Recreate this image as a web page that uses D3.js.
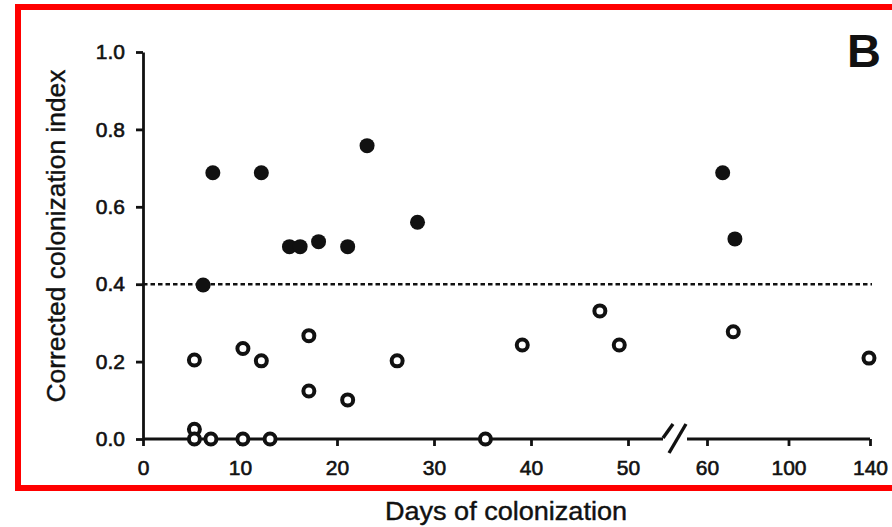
<!DOCTYPE html>
<html>
<head>
<meta charset="utf-8">
<script src="https://cdn.jsdelivr.net/npm/d3@7"></script>
<style>
  html, body { margin: 0; padding: 0; background: #fff; }
  svg { display: block; }
  text { font-family: "Liberation Sans", Arial, sans-serif; fill: #111; }
  .tick text { font-size: 21px; stroke: #111; stroke-width: 0.6px; }
  .title { stroke: #111; stroke-width: 0.4px; }
  .tick line, .domain { stroke: #111; stroke-width: 2.8px; }
</style>
</head>
<body>
<svg width="892" height="527"></svg>
<script>
'use strict';

// filled circles (index above threshold)
const filled_days  = [7.2, 12.2, 23.1, 15.1, 16.2, 18.1, 21.1, 28.3, 6.2, 67.7, 73.7];
const filled_index = [0.688, 0.688, 0.758, 0.497, 0.497, 0.510, 0.497, 0.560, 0.398, 0.688, 0.517];

// open circles
const open_days  = [5.3, 10.3, 12.2, 17.1, 17.1, 21.1, 26.2, 5.3, 5.3, 7.0, 10.3, 13.1, 35.3, 39.1, 47.1, 49.1, 72.9, 139.5];
const open_index = [0.204, 0.234, 0.202, 0.267, 0.124, 0.101, 0.202, 0.025, 0, 0, 0, 0, 0, 0.243, 0.331, 0.243, 0.277, 0.209];

const threshold = 0.4;

const x_ticks = [0, 10, 20, 30, 40, 50, 60, 100, 140];
const y_ticks = [0, 0.2, 0.4, 0.6, 0.8, 1.0];

const svg = d3.select('svg');

// frame
svg.append('rect')
  .attr('x', 18).attr('y', 7)
  .attr('width', 900).attr('height', 481)
  .attr('fill', 'none')
  .attr('stroke', '#ff0000')
  .attr('stroke-width', 6);

// broken x axis: 0-50 then 60-140 compressed
const x = d3.scaleLinear()
  .domain([0, 50, 60, 140])
  .range([143, 628, 707, 870]);

const y = d3.scaleLinear()
  .domain([0, 1])
  .range([439, 52]);

const x_axis = svg.append('g')
  .attr('transform', `translate(0,${y(0)})`)
  .call(d3.axisBottom(x).tickValues(x_ticks).tickSize(7).tickSizeOuter(0).tickPadding(14));
x_axis.select('.domain').remove();

// axis line in two pieces with the break marks
const axis_line = [[x(0), 663], [687, x(140)]];
svg.selectAll('line.xline').data(axis_line).join('line')
  .attr('class', 'xline')
  .attr('x1', d => d[0]).attr('x2', d => d[1])
  .attr('y1', y(0)).attr('y2', y(0))
  .attr('stroke', '#111').attr('stroke-width', 2.8);

const break_marks = [[663, 438, 673, 424], [669, 453, 686, 424]];
svg.selectAll('line.brk').data(break_marks).join('line')
  .attr('class', 'brk')
  .attr('x1', d => d[0]).attr('y1', d => d[1])
  .attr('x2', d => d[2]).attr('y2', d => d[3])
  .attr('stroke', '#111').attr('stroke-width', 3.4);

svg.append('g')
  .attr('transform', `translate(${x(0)},0)`)
  .call(d3.axisLeft(y).tickValues(y_ticks).tickFormat(d3.format('.1f'))
    .tickSize(7).tickSizeOuter(0).tickPadding(11));

// threshold line
svg.append('line')
  .attr('x1', x(0)).attr('x2', 872)
  .attr('y1', y(threshold)).attr('y2', y(threshold))
  .attr('stroke', '#111')
  .attr('stroke-width', 2.6)
  .attr('stroke-dasharray', '4.5,3');

// points
svg.append('g').selectAll('circle')
  .data(open_days.map((d, i) => [d, open_index[i]]))
  .join('circle')
  .attr('cx', d => x(d[0]))
  .attr('cy', d => y(d[1]))
  .attr('r', 5.5)
  .attr('fill', '#fff')
  .attr('stroke', '#111')
  .attr('stroke-width', 4);

svg.append('g').selectAll('circle')
  .data(filled_days.map((d, i) => [d, filled_index[i]]))
  .join('circle')
  .attr('cx', d => x(d[0]))
  .attr('cy', d => y(d[1]))
  .attr('r', 7.5)
  .attr('fill', '#111');

// titles
svg.append('text')
  .attr('class', 'title')
  .attr('transform', 'translate(65,236) rotate(-90)')
  .attr('text-anchor', 'middle')
  .attr('font-size', 26)
  .attr('textLength', 333)
  .attr('lengthAdjust', 'spacingAndGlyphs')
  .text('Corrected colonization index');

svg.append('text')
  .attr('class', 'title')
  .attr('x', 506).attr('y', 520)
  .attr('text-anchor', 'middle')
  .attr('font-size', 25)
  .attr('textLength', 242)
  .attr('lengthAdjust', 'spacingAndGlyphs')
  .text('Days of colonization');

svg.append('text')
  .attr('x', 847).attr('y', 67)
  .attr('font-size', 47)
  .attr('font-weight', 'bold')
  .text('B');
</script>
</body>
</html>
